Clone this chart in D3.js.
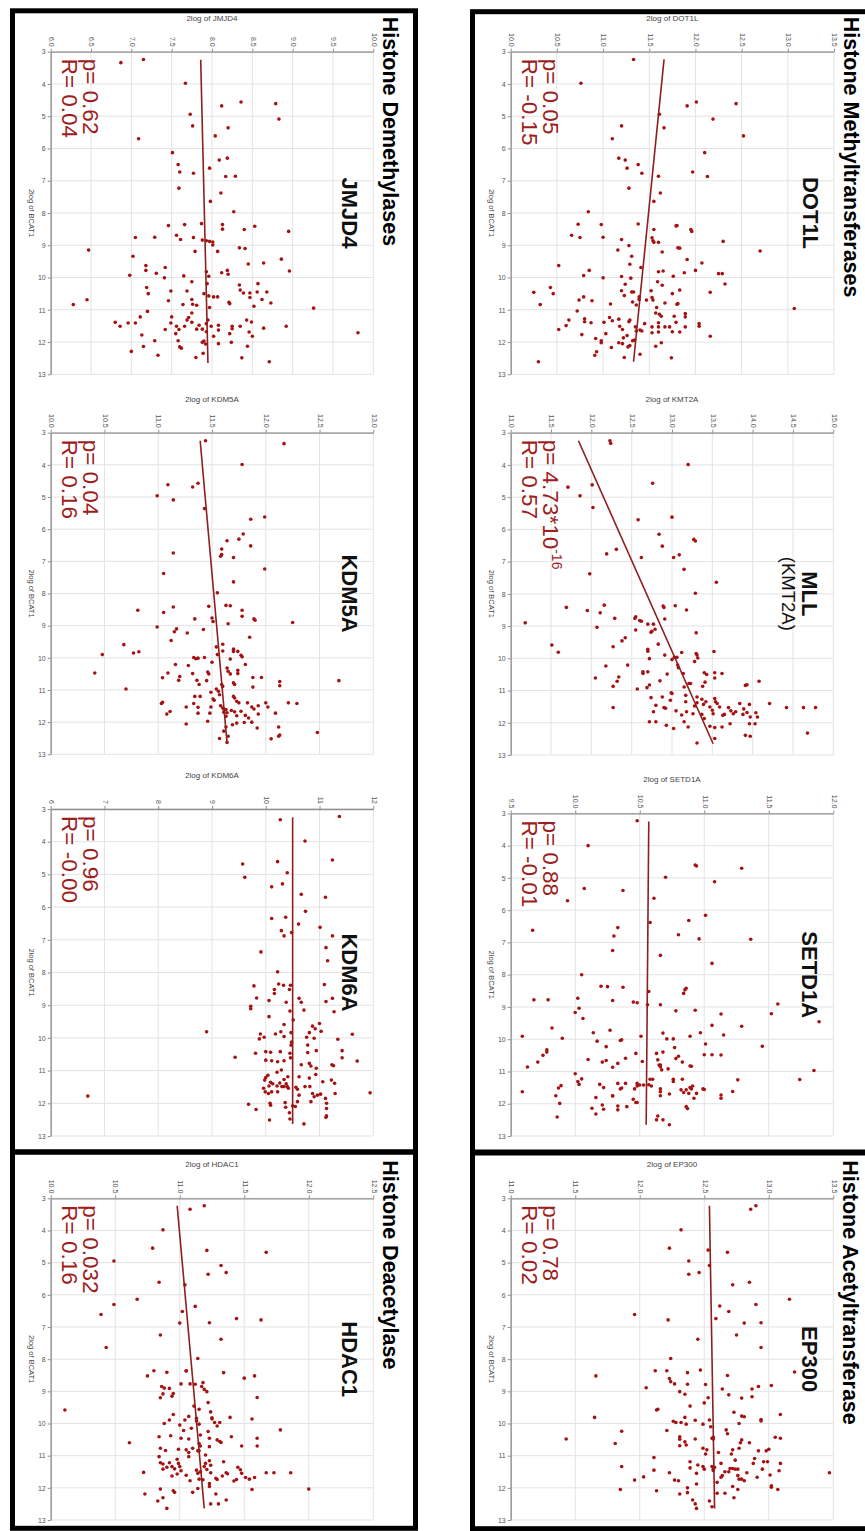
<!DOCTYPE html>
<html><head><meta charset="utf-8">
<script src="https://cdn.jsdelivr.net/npm/d3@7"></script>
<style>body{margin:0;background:#fff}svg{display:block}</style>
</head><body><svg id="c" width="865" height="1531"></svg>
<script>
// ---------------- DATA ----------------
const bcatTicks = [3,4,5,6,7,8,9,10,11,12,13];
const panelGenes = ["JMJD4","DOT1L","KDM5A","MLL","KDM6A","SETD1A","HDAC1","EP300"];
const axisGenes  = ["JMJD4","DOT1L","KDM5A","KMT2A","KDM6A","SETD1A","HDAC1","EP300"];
const pTexts = ["0.62","0.05","0.04","4.73*10","0.96","0.88","0.032","0.78"];
const pSuper = ["","","","-16","","","",""];
const rTexts = ["0.04","-0.15","0.16","0.57","-0.00","-0.01","0.16","0.02"];
const sectionTitles = ["Histone Demethylases","Histone Methyltransferases","Histone Deacetylase","Histone Acetyltransferase"];

const jmjd4Ticks  = ["6.0","6.5","7.0","7.5","8.0","8.5","9.0","9.5","10.0"];
const dot1lTicks  = ["10.0","10.5","11.0","11.5","12.0","12.5","13.0","13.5"];
const kdm5aTicks  = ["10.0","10.5","11.0","11.5","12.0","12.5","13.0"];
const kmt2aTicks  = ["11.0","11.5","12.0","12.5","13.0","13.5","14.0","14.5","15.0"];
const kdm6aTicks  = ["6","7","8","9","10","11","12"];
const setd1aTicks = ["9.5","10.0","10.5","11.0","11.5","12.0"];
const hdac1Ticks  = ["10.0","10.5","11.0","11.5","12.0","12.5"];
const ep300Ticks  = ["11.0","11.5","12.0","12.5","13.0","13.5"];

// points: [2log BCAT1, 2log gene]
const jmjd4Pts = [[3.34,6.87],[3.24,7.15],[3.98,7.67],[4.56,8.36],[4.68,8.12],[4.61,8.79],[5.09,8.83],[4.94,7.73],[5.30,7.76],[5.36,8.20],[5.70,7.09],[5.61,8.04],[6.13,7.51],[6.36,8.09],[6.30,8.19],[6.50,7.58],[6.73,7.60],[6.61,7.97],[6.77,7.77],[6.87,8.17],[6.86,8.29],[7.23,7.59],[7.38,8.11],[7.64,7.98],[7.96,8.27],[8.36,7.66],[8.39,7.46],[8.33,7.87],[8.36,8.13],[8.50,8.13],[8.51,8.40],[8.41,8.53],[8.57,8.95],[8.76,7.05],[8.75,7.29],[8.69,7.56],[8.82,7.61],[8.76,7.77],[8.84,7.88],[8.86,7.93],[8.88,7.97],[8.90,8.01],[8.99,8.01],[9.19,8.07],[9.19,7.79],[9.08,8.34],[9.10,8.41],[9.15,6.47],[9.34,7.02],[9.58,8.45],[9.55,8.64],[9.43,8.86],[9.80,8.96],[9.63,7.18],[9.78,7.18],[9.69,7.42],[9.87,7.31],[9.78,8.19],[9.90,8.20],[9.85,8.12],[9.82,7.93],[9.96,7.96],[9.93,6.98],[10.01,7.41],[9.95,7.65],
[10.13,7.75],[10.19,7.94],[10.31,7.19],[10.50,7.21],[10.42,7.49],[10.42,7.69],[10.50,7.90],[10.57,7.96],[10.60,8.02],[10.60,8.07],[10.23,8.34],[10.39,8.35],[10.48,8.39],[10.48,8.47],[10.62,8.47],[10.19,8.57],[10.45,8.56],[10.45,8.68],[10.68,8.62],[10.79,8.73],[10.89,8.52],[10.77,8.21],[10.81,8.22],[10.93,7.97],[10.68,7.75],[10.83,7.76],[10.86,7.81],[10.84,7.64],[10.72,7.46],[11.05,7.20],[10.84,6.28],[10.69,6.45],[10.95,9.26],[11.71,9.81],[11.51,8.92],[11.57,8.64],[11.38,8.49],[11.32,8.43],[11.51,8.35],[11.51,8.25],[11.59,8.25],[11.74,8.22],[11.69,8.46],[11.82,8.50],[12.13,8.44],[12.49,8.37],[12.61,8.71],[12.01,8.24],[12.05,8.08],[11.82,8.02],[11.63,8.08],[11.48,8.08],[11.51,7.99],[11.32,7.95],[11.43,7.93],[11.68,7.93],[11.60,7.88],[12.01,7.88],[11.97,7.90],[12.06,7.92],[12.35,7.89],[12.48,7.80],[11.24,7.71],[11.10,7.75],[11.32,7.69],[11.39,7.75],[11.48,7.84],[11.60,7.81],[11.51,7.66],[11.51,7.56],[11.61,7.59],[11.74,7.55],[11.96,7.58],[12.15,7.60],[12.19,7.62],[11.22,7.50],[11.61,7.42],[11.41,7.49],[11.96,7.29],[12.41,7.33],[12.14,7.15],[11.78,7.13],[11.22,7.11],[11.41,7.05],[11.41,6.96],[11.51,6.86],[11.39,6.80],[12.29,7.00]];
const dot1lPts = [[3.24,11.33],[3.98,10.76],[4.68,11.91],[4.56,12.01],[4.61,12.44],[4.94,11.61],[5.09,12.19],[5.30,11.20],[5.36,11.66],[5.61,12.52],[5.70,11.10],[6.13,12.10],[6.30,11.17],[6.36,11.24],[6.50,11.38],[6.61,11.26],[6.77,11.42],[6.86,11.60],[6.73,11.97],[6.87,12.13],[7.23,11.28],[7.38,11.62],[7.64,11.55],[7.96,10.84],[8.35,10.73],[8.36,10.98],[8.34,11.38],[8.51,11.55],[8.40,11.79],[8.39,11.80],[8.51,11.95],[8.57,11.96],[8.69,10.66],[8.76,10.75],[8.75,11.00],[8.82,11.20],[8.77,11.53],[8.86,11.54],[8.91,11.55],[8.91,11.60],[8.88,12.30],[9.01,11.28],[9.15,11.16],[9.21,11.64],[9.08,11.81],[9.09,11.83],[9.18,12.70],[9.34,11.31],[9.44,11.91],[9.59,11.29],[9.55,12.07],[9.63,10.52],[9.69,11.41],[9.78,10.85],[9.82,11.60],[9.80,11.65],[9.85,11.88],[9.78,12.00],[9.88,12.25],[9.88,12.29],[9.94,10.79],[10.01,11.00],[9.97,11.20],[10.02,11.30],[9.96,11.76],
[10.13,11.59],[10.24,11.64],[10.21,11.24],[10.41,11.20],[10.45,11.31],[10.45,11.33],[10.56,11.23],[10.76,11.32],[10.85,11.36],[10.60,11.39],[10.68,11.39],[10.70,11.47],[10.41,11.52],[10.62,11.53],[10.70,11.54],[10.93,11.58],[10.79,11.67],[10.50,11.75],[10.39,11.83],[10.83,11.80],[10.81,11.81],[10.46,12.16],[10.20,12.32],[10.96,13.07],[10.46,10.25],[10.84,10.32],[10.31,10.43],[10.50,10.46],[10.60,10.79],[10.70,10.74],[10.72,10.88],[10.82,11.08],[11.04,10.72],[11.28,10.80],[11.37,10.80],[11.40,10.87],[11.39,11.01],[11.24,11.07],[11.34,11.10],[11.29,11.17],[11.51,11.18],[11.61,11.21],[11.37,11.28],[11.32,11.29],[11.53,11.35],[11.66,11.36],[11.63,11.40],[11.43,11.45],[11.53,11.53],[11.71,11.53],[11.40,11.60],[11.53,11.60],[11.69,11.60],[11.14,11.61],[11.10,11.57],[11.20,11.63],[11.53,11.67],[11.53,11.72],[11.68,11.75],[11.20,11.77],[11.39,11.79],[11.69,11.83],[11.53,11.89],[11.22,11.89],[11.12,11.89],[11.43,12.04],[11.51,12.04],[11.82,12.16],[11.74,11.03],[11.89,10.92],[11.96,10.98],[12.02,10.98],[12.17,11.09],[12.02,11.17],[12.05,11.21],[11.87,11.22],[11.80,11.26],[11.96,11.32],[11.94,11.34],[12.15,11.27],[12.11,11.29],[12.48,11.23],[12.38,11.40],[12.13,11.57],[12.02,11.63],[12.49,11.74],[12.41,10.91],[12.30,10.93],[11.77,10.77],[11.49,10.60],[11.32,10.63],[11.61,10.52],[12.61,10.30],[11.66,11.42]];
const kdm5aPts = [[3.25,11.44],[3.34,12.17],[3.99,11.78],[4.62,11.09],[4.57,11.37],[4.69,11.32],[4.96,10.99],[5.09,11.14],[5.36,11.43],[5.62,11.99],[5.69,11.86],[6.15,11.79],[6.36,11.64],[6.31,11.75],[6.52,11.86],[6.62,11.59],[6.79,11.59],[6.88,11.70],[6.74,11.14],
[6.84,11.58],[7.24,11.99],[7.38,11.05],[7.64,11.70],[7.98,11.55],[8.52,10.81],[8.59,11.05],[8.42,11.14],[8.40,11.47],[8.37,11.63],[8.38,11.67],[8.52,11.78],[8.71,11.78],[8.79,11.89],[8.83,11.90],[8.90,12.25],[8.79,11.34],[8.76,11.50],[8.87,11.51],[8.94,11.65],[9.12,11.42],[9.04,10.99],[9.10,11.17],[9.19,11.15],[9.23,11.27],[9.36,11.85],[9.46,11.12],[9.58,11.60],[9.66,11.54],[9.59,10.68],[9.90,10.48],[9.85,10.77],[9.81,10.82],[9.90,11.55],[9.79,11.60],[9.73,11.70],[9.80,11.70],[9.80,11.74],[9.92,11.77],[9.97,11.78],[10.04,11.67],[9.99,11.33],[10.03,11.35],[10.01,11.37],[9.99,11.43],[10.14,11.50],[10.21,11.16],[10.24,11.28],[10.21,11.81],[10.32,11.64],[10.42,11.65],[10.50,11.67],[10.39,11.74],[10.49,11.74],[10.49,11.32],[10.44,11.46],[10.50,11.47],[10.47,11.09],[10.58,11.20],[10.70,11.19],[10.62,11.04],[10.47,10.41],[10.70,11.36],[10.83,11.38],[10.71,11.45],[10.83,11.59],[10.89,11.60],[10.78,11.70],[10.83,11.71],[10.61,11.88],[10.91,11.88],[10.61,11.96],[10.74,12.13],[10.87,12.13],[10.71,12.68],[10.97,10.70],[10.97,11.54],[11.04,11.56],[11.15,11.57],[11.07,11.49],[11.28,11.51],[11.32,11.52],[11.20,11.34],[11.20,11.39],[11.20,11.70],[11.25,11.71],[11.35,11.73],[11.40,11.75],[11.40,11.83],[11.49,11.93],[11.40,12.00],[11.53,12.02],[11.40,12.21],[11.42,12.29],[11.53,11.26],[11.54,11.37],[11.53,11.49],[11.49,11.58],[11.56,11.60],[11.59,11.61],[11.61,11.63],[11.69,11.61],[11.71,11.64],[11.82,11.63],[11.64,11.68],[11.68,11.71],[11.80,11.73],[11.66,11.77],[11.79,11.81],[11.87,11.84],[11.53,11.87],[11.59,11.89],[11.75,11.93],[12.00,11.87],[12.01,11.80],[12.03,11.73],[12.08,11.69],[11.97,11.46],[11.72,11.48],[11.72,11.37],[12.15,11.63],[12.28,11.61],[12.44,11.65],[12.63,11.64],[12.51,11.57],[12.18,11.92],[12.52,12.05],[12.44,12.12],[12.40,12.13],[12.15,12.12],[11.72,12.09],[12.32,12.48],[12.06,11.26],[11.75,11.08],[11.67,11.11],[11.42,11.03],[11.38,11.04],[11.42,11.33]];
const mllPts = [[3.25,12.23],[3.33,12.24],[3.99,13.20],[4.57,12.76],[4.69,11.71],[4.62,12.01],[4.96,11.86],[5.32,12.02],[5.70,12.58],[5.62,13.00],[6.15,12.84],[6.52,12.88],[6.31,13.27],[6.36,13.29],[6.62,12.31],[6.76,12.19],[6.87,12.62],[6.87,13.02],[6.79,13.09],
[7.38,11.98],[7.24,13.15],[7.64,13.55],[7.98,13.29],[8.42,11.69],[8.52,11.95],[8.59,12.11],[8.35,12.16],[8.76,12.29],[8.90,11.18],[9.04,12.07],[9.59,11.51],[9.81,11.59],[8.76,12.54],[8.71,12.55],[8.83,12.60],[8.85,12.62],[9.12,12.55],[8.94,12.70],[8.94,12.77],[9.10,12.79],[9.19,12.74],[9.16,12.75],[8.38,12.89],[8.42,12.90],[8.78,12.91],[8.37,13.04],[8.50,13.18],[9.56,12.83],[9.36,12.42],[9.46,12.38],[9.64,12.27],[9.72,12.70],[9.78,12.70],[10.01,12.72],[9.90,12.91],[10.04,13.00],[9.97,13.03],[9.97,13.06],[10.21,13.07],[10.29,13.08],[9.82,13.12],[9.21,13.30],[9.85,13.30],[9.90,13.31],[9.99,13.32],[10.10,13.28],[9.79,13.52],[10.24,12.18],[10.21,12.45],[10.42,12.64],[10.47,12.64],[10.42,12.70],[10.49,12.94],[10.47,13.14],[10.45,13.40],[10.50,13.43],[10.45,13.53],[10.61,13.53],[10.47,13.62],[10.71,14.08],[10.61,12.05],[10.58,12.34],[10.71,12.32],[10.87,12.27],[10.95,12.57],[10.83,12.72],[10.91,12.69],[10.70,12.85],[10.78,13.21],[10.78,13.23],[10.89,13.15],[10.87,13.38],[10.74,13.41],[10.84,13.91],[10.82,13.93],[11.53,12.27],[11.22,12.74],[11.20,12.88],[11.46,12.80],[11.53,12.90],[11.55,12.92],[11.30,12.98],[11.07,12.99],[11.09,13.00],[11.15,13.17],[11.35,13.17],[11.66,13.18],[11.48,13.28],[11.38,13.31],[11.20,13.31],[11.27,13.37],[11.43,13.39],[11.35,13.42],[11.51,13.47],[11.61,13.50],[11.72,13.51],[11.25,13.53],[11.35,13.54],[11.40,13.56],[11.51,13.59],[11.77,13.63],[11.74,13.65],[11.53,13.70],[11.63,13.73],[11.72,13.76],[11.66,13.79],[11.40,13.84],[11.74,13.88],[11.57,13.89],[11.68,13.93],[11.43,13.96],[11.82,13.97],[11.69,14.04],[11.82,14.06],[12.03,14.03],[12.03,13.96],[12.39,13.91],[12.42,13.97],[12.03,13.72],[12.13,13.62],[12.15,13.53],[12.49,13.53],[12.11,13.47],[11.87,13.40],[11.74,13.37],[12.63,13.31],[12.13,13.20],[11.97,13.15],[12.18,13.02],[12.08,12.93],[11.97,12.80],[11.97,12.72],[11.66,12.77],[11.40,14.21],[11.53,14.42],[11.53,14.63],[11.53,14.78],[12.32,14.68],[11.63,13.05],[11.72,13.26],[11.76,13.12]];
const kdm6aPts = [[3.23,11.37],[3.33,10.27],[3.98,10.73],[4.68,9.57],[5.09,9.61],[4.61,10.22],[4.95,10.40],[4.56,11.24],[5.29,10.31],[5.38,10.11],[5.61,10.66],[5.70,11.11],[6.13,10.74],[6.35,10.11],[6.31,10.37],[6.52,10.61],[6.62,11.01],[6.72,10.29],[6.88,10.34],[6.78,10.48],[6.88,11.24],[7.24,11.12],[7.37,9.91],[7.64,11.15],[7.98,10.22],[8.41,9.78],[8.78,9.83],[9.03,9.72],[9.11,9.72],[8.86,10.06],[8.64,10.16],[8.52,10.16],[8.35,10.24],[8.39,10.33],[8.39,10.46],[8.91,10.38],[9.18,10.45],[8.52,10.44],[8.79,10.62],[8.91,10.66],[9.15,10.71],[8.37,11.09],[8.89,11.12],[8.79,11.24],[9.20,11.27],[9.35,10.06],[9.59,10.34],[9.45,10.51],[9.88,9.90],[10.03,9.88],[9.98,9.97],[9.88,10.18],[9.81,10.28],[9.96,10.34],[9.84,10.47],[10.13,10.48],[10.22,10.47],[9.98,10.76],[9.64,10.87],[9.72,10.92],[9.56,11.00],[9.80,11.03],[9.84,10.81],[10.01,10.90],[10.04,11.34],[9.89,11.61],[10.39,11.42],[10.61,11.42],[10.71,11.70],[9.81,8.90],[10.59,9.43],[10.47,9.81],[10.42,10.00],[10.44,10.09],[10.68,10.00],[10.70,10.11],[10.42,10.27],[10.73,10.22],[10.70,10.34],[10.47,10.45],[10.61,10.46],[10.22,10.78],[10.45,10.78],[10.39,10.94],[10.78,10.81],[10.86,10.84],[10.93,10.94],[10.82,10.66],[10.82,11.23],[10.85,11.26],[11.14,10.04],[11.21,10.00],[11.29,9.98],[11.36,10.09],[11.05,10.21],[10.98,10.29],[11.27,10.34],[11.19,10.41],[11.19,10.62],[11.23,10.81],[11.12,10.93],[11.34,11.06],[11.29,11.22],[11.39,11.28],[11.70,11.29],[11.68,11.94],[11.54,9.96],[11.65,9.99],[11.70,10.05],[11.47,10.06],[11.40,10.13],[11.47,10.21],[11.38,10.26],[11.49,10.30],[11.49,10.34],[11.40,10.38],[11.49,10.40],[11.54,10.42],[11.65,10.22],[11.65,10.11],[11.51,10.56],[11.57,10.59],[11.75,10.62],[11.49,10.73],[11.49,10.82],[11.70,10.87],[11.80,10.90],[11.75,10.96],[11.72,11.02],[11.95,10.84],[11.85,11.11],[12.00,11.13],[12.16,11.13],[12.38,11.13],[12.43,11.12],[12.03,9.68],[12.19,9.82],[12.00,10.08],[12.06,10.09],[11.98,10.36],[12.12,10.37],[12.29,10.44],[12.48,10.45],[12.08,10.50],[12.10,10.55],[11.95,10.59],[12.51,10.07],[12.63,10.71],[11.78,6.69]];
const setd1aPts = [[3.23,10.48],[4.00,10.10],[4.60,10.93],[4.63,10.94],[4.70,11.29],[4.98,10.70],[5.12,11.08],[5.33,10.07],[5.39,10.37],[5.63,10.61],[5.71,9.94],[6.16,11.01],[6.38,10.58],[6.32,10.88],[6.62,9.67],[6.54,10.33],[6.80,10.30],[6.76,10.80],[6.89,10.96],[6.90,11.36],[7.25,10.29],[7.40,10.66],[7.65,11.06],[8.00,10.05],[8.36,10.20],[8.37,10.25],[8.39,10.37],[8.42,10.86],[8.47,10.85],[8.58,10.84],[8.52,10.57],[8.78,9.68],[8.78,9.79],[8.73,10.02],[8.80,10.29],[8.85,10.45],[8.87,10.48],[8.93,10.56],[8.93,10.66],[8.91,11.57],[9.04,10.03],[9.17,10.00],[9.36,10.06],[9.12,10.78],[9.10,10.93],[9.22,11.13],[9.21,11.52],[9.46,11.89],[9.60,11.29],[9.57,11.06],[9.65,9.82],[9.80,10.14],[9.72,10.27],[9.91,9.59],[9.97,9.90],[10.06,10.17],[10.04,10.35],[10.02,10.36],[9.91,10.51],[9.81,10.68],[9.99,10.71],[9.99,10.76],[9.91,10.89],[9.80,10.97],[10.15,11.01],[9.87,11.15],[10.22,11.45],[10.23,10.24],[10.26,10.77],[10.33,9.78],[10.40,9.78],[10.50,9.75],[10.71,9.71],[10.86,9.63],[10.63,10.10],[10.71,10.21],[10.66,10.24],[10.87,10.29],[10.75,10.33],[10.59,10.39],[10.44,10.47],[10.69,10.52],[10.44,10.63],[10.64,10.64],[10.80,10.65],[10.80,10.66],[10.40,10.68],[10.85,10.66],[10.95,10.67],[10.92,10.72],[10.60,10.78],[10.53,10.80],[10.71,10.83],[10.84,10.90],[10.48,11.00],[10.48,11.06],[10.49,11.13],[10.97,11.85],[11.25,11.74],[11.26,11.26],[11.62,11.22],[11.73,11.13],[11.83,11.13],[11.07,10.00],[11.31,10.02],[11.40,10.03],[11.23,10.05],[11.44,9.89],[11.51,9.87],[11.75,9.85],[11.99,9.88],[12.41,9.86],[11.63,9.59],[12.14,10.13],[12.32,10.16],[11.81,10.16],[11.40,10.19],[11.50,10.22],[12.04,10.21],[12.17,10.22],[11.76,10.29],[11.75,10.29],[11.37,10.33],[11.54,10.35],[11.51,10.36],[12.07,10.33],[12.19,10.33],[11.37,10.39],[12.09,10.40],[11.86,10.45],[11.54,10.46],[11.37,10.48],[11.45,10.48],[11.42,10.50],[11.96,10.47],[11.96,10.48],[11.42,10.53],[11.41,10.57],[11.24,10.58],[11.24,10.60],[11.45,10.59],[11.54,10.66],[11.63,10.66],[11.75,10.66],[12.38,10.64],[12.50,10.63],[12.50,10.68],[12.65,10.73],[11.70,10.73],[11.24,10.76],[11.31,10.76],[11.57,10.82],[11.24,10.83],[11.65,10.84],[12.09,10.86],[12.15,10.87],[11.57,10.86],[11.68,10.88],[11.50,10.89],[11.54,10.90],[11.45,10.91],[11.83,10.92],[11.68,10.94],[11.54,10.99],[11.56,11.00],[10.83,10.89]];
const hdac1Pts = [[3.23,11.19],[3.34,11.08],[3.98,10.87],[4.55,10.79],[4.62,11.21],[4.68,11.67],[4.95,10.49],[5.09,11.32],[5.31,11.36],[5.36,11.22],[5.61,10.84],[5.69,11.04],[6.14,10.67],[6.30,10.49],[6.36,11.12],[6.52,11.02],[6.61,10.39],[6.74,11.44],[6.78,11.63],[6.88,11.00],[6.87,11.23],[7.25,10.85],[7.38,11.32],[7.64,10.43],[7.98,11.14],[8.36,10.80],[8.41,10.90],[8.36,11.05],[8.37,11.05],[8.52,10.75],[8.42,11.34],[8.59,11.50],[8.52,11.58],[8.77,11.01],[8.77,11.08],[8.78,11.12],[8.73,11.18],[8.85,11.17],[8.94,11.19],[9.01,11.21],[8.85,10.86],[8.90,10.88],[8.91,10.92],[9.08,10.87],[9.20,10.85],[9.15,10.94],[9.07,10.95],[9.19,11.60],[9.35,11.22],[9.46,11.11],[9.56,11.15],[9.58,10.11],[9.72,10.95],[9.78,11.07],[9.84,11.13],[9.64,11.24],[9.82,11.25],[9.86,11.25],[9.81,11.39],[9.86,11.56],[9.89,10.92],[10.00,10.88],[10.05,11.00],[9.89,11.04],[10.22,11.03],[9.92,11.13],[10.02,11.15],[9.97,11.27],[9.97,11.31],[10.08,11.29],[10.25,11.22],[10.15,11.09],[10.20,11.78],[10.41,10.84],[10.38,10.93],[10.46,11.01],[10.48,11.07],[10.36,11.16],[10.46,11.23],[10.51,11.29],[10.56,11.31],[10.59,11.32],[10.41,11.40],[10.46,11.60],[10.70,11.60],[10.70,11.48],[10.60,10.61],[10.77,10.85],[10.84,10.89],[10.80,10.99],[10.82,11.05],[10.90,11.07],[11.03,11.07],[10.77,11.10],[10.62,11.15],[10.70,11.16],[10.85,11.14],[10.85,11.15],[10.72,11.23],[10.98,11.20],[11.03,10.84],[11.11,10.98],[11.22,10.85],[11.26,10.87],[11.22,10.92],[11.24,10.99],[11.34,11.00],[11.47,11.01],[11.42,10.87],[11.36,10.90],[11.34,10.94],[11.41,10.96],[11.57,10.98],[11.63,10.94],[11.61,11.05],[11.78,11.08],[11.45,11.13],[11.55,11.14],[11.50,11.16],[11.34,11.19],[11.24,11.20],[11.16,11.23],[11.30,11.24],[11.43,11.21],[11.53,11.24],[11.75,11.18],[11.73,11.15],[11.87,11.23],[11.96,11.23],[11.70,11.28],[11.74,11.29],[11.63,11.33],[11.19,11.34],[11.53,11.36],[11.56,11.37],[11.79,11.42],[11.74,11.44],[11.36,11.45],[11.44,11.47],[11.55,11.48],[11.68,11.51],[11.73,11.54],[11.68,11.58],[12.05,11.56],[11.53,11.67],[11.53,11.73],[11.53,11.86],[12.04,12.00],[11.52,10.72],[12.19,10.73],[12.04,10.85],[12.31,10.87],[12.41,10.83],[12.64,10.90],[12.09,10.95],[12.14,10.96],[12.14,11.10],[12.02,11.14],[12.19,11.28],[12.50,11.24],[12.50,11.30],[12.38,11.36]];
const ep300Pts = [[3.23,12.90],[3.34,12.86],[3.98,12.32],[4.55,12.23],[4.61,12.53],[4.68,12.68],[4.95,12.38],[5.09,12.54],[5.36,12.38],[5.31,12.46],[5.69,12.72],[5.61,12.85],[6.14,13.16],[6.30,12.90],[6.35,12.62],[6.52,12.69],[6.61,11.96],[6.78,12.22],[6.74,12.59],[6.88,12.81],[6.87,12.94],[7.25,12.75],[7.38,12.45],[7.64,12.94],[7.98,12.24],[8.52,11.66],[8.36,12.12],[8.36,12.21],[8.42,12.37],[8.34,12.47],[8.51,12.68],[8.40,13.20],[8.60,12.23],[8.70,12.24],[8.77,12.27],[8.78,12.37],[8.79,12.51],[8.82,13.02],[8.85,12.92],[8.93,12.87],[8.89,12.05],[8.93,12.64],[9.01,12.31],[9.09,12.35],[9.11,12.69],[9.20,12.53],[9.21,12.79],[9.17,12.87],[9.36,12.50],[9.46,12.39],[9.58,12.13],[9.56,12.14],[9.65,12.73],[9.72,13.09],[9.81,11.65],[9.81,12.35],[9.90,12.43],[9.89,12.54],[9.77,12.79],[9.79,12.81],[9.88,12.94],[9.92,12.94],[9.93,12.26],[9.97,12.28],[9.97,12.32],[10.02,12.36],[10.02,12.49],[10.10,12.55],[10.00,12.77],[10.24,11.86],[10.22,12.21],[10.41,12.31],[10.49,12.31],[10.57,12.35],[10.67,12.36],[10.69,12.31],[10.48,12.43],[10.43,12.57],[10.46,12.56],[10.48,12.57],[10.20,12.67],[10.32,12.68],[10.51,12.79],[10.60,12.78],[10.60,12.85],[10.77,12.77],[10.82,12.72],[10.43,13.05],[10.46,13.09],[10.48,11.43],[10.62,11.81],[10.77,12.49],[10.82,12.52],[10.95,12.51],[10.90,12.61],[10.95,12.71],[10.85,12.92],[10.80,13.00],[10.85,12.98],[11.06,12.11],[11.19,12.39],[11.29,12.45],[11.34,12.49],[11.42,12.50],[11.34,12.56],[11.42,12.57],[11.36,12.58],[11.24,12.63],[11.14,12.74],[11.50,12.66],[11.50,12.69],[11.40,12.70],[11.40,12.72],[11.42,12.74],[11.42,12.76],[11.24,12.88],[11.09,12.89],[11.19,12.96],[11.42,12.95],[11.19,12.99],[11.24,13.09],[11.47,13.08],[11.60,13.01],[11.53,12.83],[11.67,12.91],[11.53,13.47],[11.34,11.86],[11.45,12.11],[11.53,12.23],[11.66,12.03],[11.76,11.96],[12.05,11.85],[12.09,12.13],[11.76,12.27],[11.78,12.30],[11.38,12.39],[11.55,12.44],[11.88,12.44],[12.00,12.37],[12.15,12.37],[12.19,12.31],[11.83,12.60],[11.67,12.63],[11.62,12.64],[12.17,12.66],[11.96,12.72],[12.31,12.73],[11.62,12.76],[11.73,12.77],[11.73,12.79],[11.78,12.81],[12.05,12.76],[12.17,12.60],[12.41,12.54],[12.38,12.41],[12.50,12.43],[12.64,12.44],[12.59,12.56],[11.98,13.02],[11.94,13.02],[12.05,13.07],[11.46,12.57]];

// regression line end points: [BCAT1, gene]
const jmjd4Trend  = [[3.25,7.86],[12.65,7.95]];
const dot1lTrend  = [[3.24,11.66],[12.61,11.33]];
const kdm5aTrend  = [[3.25,11.39],[12.65,11.64]];
const mllTrend    = [[3.25,11.84],[12.65,13.51]];
const kdm6aTrend  = [[3.25,10.50],[12.63,10.50]];
const setd1aTrend = [[3.25,10.57],[12.65,10.55]];
const hdac1Trend  = [[3.23,10.98],[12.64,11.19]];
const ep300Trend  = [[3.23,12.54],[12.64,12.58]];

const allPts    = [jmjd4Pts,dot1lPts,kdm5aPts,mllPts,kdm6aPts,setd1aPts,hdac1Pts,ep300Pts];
const allTrends = [jmjd4Trend,dot1lTrend,kdm5aTrend,mllTrend,kdm6aTrend,setd1aTrend,hdac1Trend,ep300Trend];
const allTicks  = [jmjd4Ticks,dot1lTicks,kdm5aTicks,kmt2aTicks,kdm6aTicks,setd1aTicks,hdac1Ticks,ep300Ticks];

// ---------------- LAYOUT ----------------
const frames = [
  {x0:50.7, x1:373.3, y0:51.7,  y1:374.3},
  {x0:510.7,x1:834.0, y0:51.7,  y1:374.3},
  {x0:50.7, x1:373.3, y0:432.7, y1:754.3},
  {x0:510.7,x1:833.3, y0:432.7, y1:755.0},
  {x0:50.7, x1:373.3, y0:809.0, y1:1136.0},
  {x0:510.7,x1:833.3, y0:813.4, y1:1136.0},
  {x0:50.7, x1:373.3, y0:1198.3,y1:1520.0},
  {x0:510.7,x1:833.3, y0:1198.3,y1:1520.0}
];
const FONT = "'Liberation Sans', Arial, Helvetica, sans-serif";
const RED_TXT = "#9e1d1d", RED_PT = "#a51212", RED_LINE = "#8e1f1f";

const svg = d3.select("#c").style("font-family", FONT);
svg.append("rect").attr("width",865).attr("height",1531).attr("fill","#fff");

function rotText(parent, x, y, txt, size, weight, fill, anchor) {
  return parent.append("text")
    .attr("transform", `translate(${x},${y}) rotate(90)`)
    .attr("text-anchor", anchor || "start")
    .style("font-size", size + "px")
    .style("font-weight", weight || "normal")
    .attr("fill", fill)
    .text(txt);
}

allPts.forEach((pts, i) => {
  const F = frames[i];
  const labels = allTicks[i];
  const vals = labels.map(Number);
  const gx = d3.scaleLinear().domain([vals[0], vals[vals.length-1]]).range([F.x0, F.x1]);
  const by = d3.scaleLinear().domain([3, 13]).range([F.y0, F.y1]);
  const g = svg.append("g");

  // grid
  g.append("g").selectAll("line").data(vals).join("line")
    .attr("x1", d => gx(d)).attr("x2", d => gx(d)).attr("y1", F.y0).attr("y2", F.y1)
    .attr("stroke", "#e3e3e3").attr("stroke-width", 1);
  g.append("g").selectAll("line").data(bcatTicks).join("line")
    .attr("y1", d => by(d)).attr("y2", d => by(d)).attr("x1", F.x0).attr("x2", F.x1)
    .attr("stroke", "#e3e3e3").attr("stroke-width", 1);

  // top (gene) axis
  const ax = g.append("g").attr("transform", `translate(0,${F.y0})`)
    .call(d3.axisTop(gx).tickValues(vals).tickFormat((d, k) => labels[k]).tickSize(3).tickSizeOuter(0).tickPadding(2));
  ax.selectAll("text")
    .attr("transform", "rotate(90)").attr("x", -5).attr("y", 0).attr("dy", "0.32em")
    .attr("text-anchor", "end").style("font-size", "7px").attr("fill", "#555").style("font-family", FONT);
  // left (BCAT1) axis
  const ay = g.append("g").attr("transform", `translate(${F.x0},0)`)
    .call(d3.axisLeft(by).tickValues(bcatTicks).tickSize(3).tickSizeOuter(0).tickPadding(2));
  ay.selectAll("text").style("font-size", "7px").attr("fill", "#555").style("font-family", FONT);
  [ax, ay].forEach(a => {
    a.select(".domain").attr("stroke", "#8f8f8f").attr("stroke-width", 1.3);
    a.selectAll(".tick line").attr("stroke", "#8f8f8f");
  });

  // axis titles
  g.append("text").attr("x", (F.x0 + F.x1) / 2).attr("y", F.y0 - 31)
    .attr("text-anchor", "middle").style("font-size", "8px").attr("fill", "#444")
    .text("2log of " + axisGenes[i]);
  rotText(g, F.x0 - 21.5, (F.y0 + F.y1) / 2, "2log of BCAT1", 7.5, "normal", "#444", "middle");

  // points
  g.append("g").selectAll("circle").data(pts).join("circle")
    .attr("cx", d => gx(d[1])).attr("cy", d => by(d[0])).attr("r", 1.8).attr("fill", RED_PT);

  // regression line
  const tr = allTrends[i];
  g.append("line")
    .attr("x1", gx(tr[0][1])).attr("y1", by(tr[0][0]))
    .attr("x2", gx(tr[1][1])).attr("y2", by(tr[1][0]))
    .attr("stroke", RED_LINE).attr("stroke-width", 1.6);

  // statistics
  const pt = rotText(g, F.x0 + 32, F.y0 + 7, "p= " + pTexts[i], 22.5, "normal", RED_TXT);
  if (pSuper[i]) pt.append("tspan").attr("dy", -9).style("font-size", "14px").text(pSuper[i]);
  rotText(g, F.x0 + 11, F.y0 + 7, "R= " + rTexts[i], 22.5, "normal", RED_TXT);

  // panel label
  const cy = (F.y0 + F.y1) / 2;
  rotText(g, F.x1 - 31, cy, panelGenes[i], 22, "bold", "#111", "middle");
  if (panelGenes[i] !== axisGenes[i])
    rotText(g, F.x1 - 51, cy, "(" + axisGenes[i] + ")", 18.5, "normal", "#111", "middle");
});

// section titles
rotText(svg, frames[0].x1 + 10, frames[0].y0 - 35, sectionTitles[0], 21.5, "bold", "#000");
rotText(svg, frames[1].x1 + 9.5, frames[1].y0 - 35, sectionTitles[1], 21.5, "bold", "#000");
rotText(svg, frames[6].x1 + 10, frames[6].y0 - 38, sectionTitles[2], 21.5, "bold", "#000");
rotText(svg, frames[7].x1 + 10, frames[7].y0 - 38, sectionTitles[3], 21.5, "bold", "#000");

// frames
svg.append("rect").attr("x", 12.5).attr("y", 10.8).attr("width", 403).attr("height", 1517.5)
  .attr("fill", "none").attr("stroke", "#000").attr("stroke-width", 5);
svg.append("line").attr("x1", 12.5).attr("x2", 415.5).attr("y1", 1152).attr("y2", 1152)
  .attr("stroke", "#000").attr("stroke-width", 5.5);
svg.append("rect").attr("x", 472.5).attr("y", 11.7).attr("width", 420).attr("height", 1517)
  .attr("fill", "none").attr("stroke", "#000").attr("stroke-width", 5);
svg.append("line").attr("x1", 472.5).attr("x2", 870).attr("y1", 1152.5).attr("y2", 1152.5)
  .attr("stroke", "#000").attr("stroke-width", 6);
</script>
</body></html>
